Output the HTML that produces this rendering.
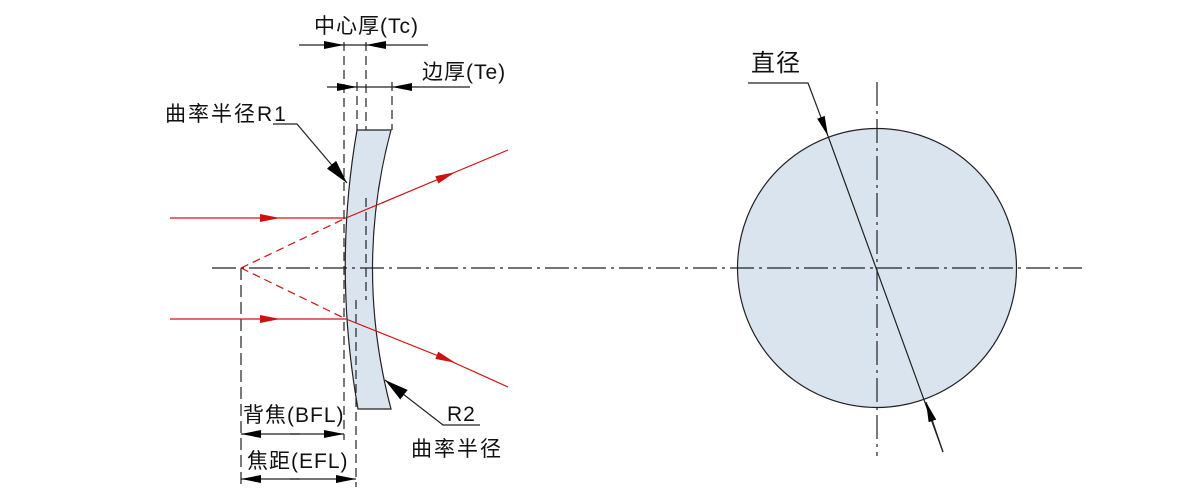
<!DOCTYPE html>
<html><head><meta charset="utf-8"><style>
html,body{margin:0;padding:0;background:#fff;}
svg{display:block;}
text{font-family:"Liberation Sans","Noto Sans CJK SC",sans-serif;font-size:21px;letter-spacing:1px;fill:#111;}
</style></head><body>
<svg width="1200" height="500" viewBox="0 0 1200 500" xmlns="http://www.w3.org/2000/svg">
<defs>
<marker id="ab" viewBox="0 0 20 8" refX="20" refY="4" markerWidth="20" markerHeight="8" markerUnits="userSpaceOnUse" orient="auto"><path d="M0,0L20,4L0,8z" fill="#000"/></marker>
<marker id="abig" viewBox="0 0 24 12" refX="24" refY="6" markerWidth="24" markerHeight="12" markerUnits="userSpaceOnUse" orient="auto"><path d="M0,0L24,6L0,12z" fill="#000"/></marker>
<marker id="ar" viewBox="0 0 20 8" refX="10" refY="4" markerWidth="20" markerHeight="8" markerUnits="userSpaceOnUse" orient="auto"><path d="M0,0L20,4L0,8z" fill="#d01010"/></marker>
</defs>
<path d="M357,130 L391,130 Q354,268 391,409 L358,409 Q333,268 357,130Z" fill="#dae4ef" stroke="#222" stroke-width="1.2"/>
<circle cx="877" cy="268" r="139.5" fill="#dae4ef" stroke="#222" stroke-width="1.2"/>
<g stroke="#222" stroke-width="1.2" fill="none">
<line x1="212" y1="268" x2="1082" y2="268" stroke-dasharray="24,5,3,5"/>
<line x1="877" y1="82" x2="877" y2="456" stroke-dasharray="24,5,3,5"/>
<line x1="344" y1="42" x2="344" y2="440" stroke-dasharray="9,5"/>
<line x1="366" y1="42" x2="366" y2="130" stroke-dasharray="9,5"/>
<line x1="366" y1="198" x2="366" y2="300" stroke-dasharray="9,5"/>
<line x1="357" y1="82" x2="357" y2="130" stroke-dasharray="9,5"/>
<line x1="392" y1="82" x2="392" y2="130" stroke-dasharray="9,5"/>
<line x1="356" y1="300" x2="356" y2="487" stroke-dasharray="9,5"/>
<line x1="241" y1="268" x2="241" y2="487" stroke-dasharray="12,5"/>
<line x1="299" y1="45" x2="344" y2="45" marker-end="url(#ab)"/>
<line x1="428" y1="45" x2="366" y2="45" marker-end="url(#ab)"/>
<line x1="344" y1="45" x2="366" y2="45"/>
<line x1="327" y1="87" x2="357" y2="87" marker-end="url(#ab)"/>
<line x1="470" y1="87" x2="392" y2="87" marker-end="url(#ab)"/>
<line x1="357" y1="87" x2="392" y2="87"/>
<line x1="300" y1="434" x2="241" y2="434" marker-end="url(#ab)"/>
<line x1="290" y1="434" x2="344" y2="434" marker-end="url(#ab)"/>
<line x1="300" y1="479" x2="241" y2="479" marker-end="url(#ab)"/>
<line x1="290" y1="479" x2="356" y2="479" marker-end="url(#ab)"/>
<polyline points="273,124 297,124 347,183" marker-end="url(#abig)"/>
<polyline points="480,425 443,425 385,380" marker-end="url(#abig)"/>
<polyline points="748,83 808,83 828,136" marker-end="url(#ab)"/>
<line x1="828" y1="136" x2="943" y2="452"/>
<line x1="943" y1="452" x2="926" y2="402" marker-end="url(#ab)"/>
</g>
<g stroke="#d01010" stroke-width="1.2" fill="none">
<line x1="170" y1="218" x2="270" y2="218" marker-end="url(#ar)"/>
<line x1="270" y1="218" x2="346" y2="218"/>
<line x1="346" y1="218" x2="446" y2="176" marker-end="url(#ar)"/>
<line x1="446" y1="176" x2="508" y2="150"/>
<line x1="241" y1="268" x2="346" y2="218" stroke-dasharray="8,5"/>
<line x1="170" y1="319" x2="270" y2="319" marker-end="url(#ar)"/>
<line x1="270" y1="319" x2="346" y2="319"/>
<line x1="346" y1="319" x2="446" y2="359" marker-end="url(#ar)"/>
<line x1="446" y1="359" x2="508" y2="387"/>
<line x1="241" y1="268" x2="346" y2="319" stroke-dasharray="8,5"/>
</g>
<text x="314" y="33">中心厚(Tc)</text>
<text x="422" y="79">边厚(Te)</text>
<text x="165" y="121" style="letter-spacing:2px">曲率半径R1</text>
<text x="243" y="422">背焦(BFL)</text>
<text x="247" y="468">焦距(EFL)</text>
<text x="447" y="421">R2</text>
<text x="411" y="456" style="letter-spacing:2px">曲率半径</text>
<text x="751" y="71" style="font-size:24px">直径</text>
</svg>
</body></html>
